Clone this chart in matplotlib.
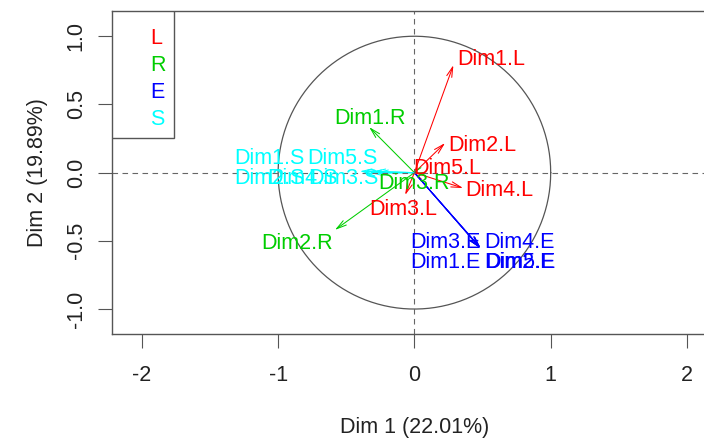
import matplotlib
matplotlib.use("Agg")
import numpy as np
import matplotlib.pyplot as plt
from matplotlib.patches import FancyArrowPatch, Rectangle

plt.rcParams["font.family"] = ["Liberation Sans", "DejaVu Sans"]

# partial axes coordinates, one set per group
groups = ["L", "R", "E", "S"]
group_colors = ["#ff0000", "#00cd00", "#0000ff", "#00ffff"]

L_names = ["Dim1.L", "Dim2.L", "Dim3.L", "Dim4.L", "Dim5.L"]
L_x = [0.286, 0.225, -0.068, 0.357, -0.020]
L_y = [0.788, 0.217, -0.164, -0.113, 0.010]

R_names = ["Dim1.R", "Dim2.R", "Dim3.R"]
R_x = [-0.332, -0.583, -0.030]
R_y = [0.334, -0.420, -0.010]

E_names = ["Dim1.E", "Dim2.E", "Dim3.E", "Dim4.E", "Dim5.E"]
E_x = [0.480, 0.485, 0.480, 0.485, 0.485]
E_y = [-0.550, -0.555, -0.550, -0.550, -0.555]

S_names = ["Dim1.S", "Dim2.S", "Dim3.S", "Dim4.S", "Dim5.S"]
S_x = [-0.400, -0.380, -0.280, -0.330, -0.300]
S_y = [0.010, -0.005, 0.000, 0.000, 0.010]

xlab = "Dim 1 (22.01%)"
ylab = "Dim 2 (19.89%)"

# label placement: (alignment, dx, dy) in pixels from the arrow tip
label_pos = {
    "Dim1.L": ("left", 4, 6), "Dim2.L": ("left", 3, -2),
    "Dim3.L": ("center", -2, -14), "Dim4.L": ("left", 2, -2),
    "Dim5.L": ("left", 1.5, 3),
    "Dim1.R": ("center", 1, 9), "Dim2.R": ("right", -2, -14),
    "Dim3.R": ("center", 4, -9),
    "Dim1.E": ("right", 1, -15), "Dim2.E": ("left", 4, -14),
    "Dim3.E": ("right", 1, 5), "Dim4.E": ("left", 4, 5),
    "Dim5.E": ("left", 5, -14.5),
    "Dim1.S": ("right", -55, 13), "Dim2.S": ("right", -57.5, -4.7),
    "Dim3.S": ("right", 1.9, -5.4), "Dim4.S": ("right", -31.3, -5.4),
    "Dim5.S": ("right", 4.6, 13),
}

FS = 15.5
GREY = "#555555"

fig = plt.figure(figsize=(7.04, 4.38), dpi=100)
ax = fig.add_axes([0.1587, 0.2368, 0.8599, 0.7381])
ax.set_xlim(-2.221, 2.221)
ax.set_ylim(-1.185, 1.185)

# unit circle and the dashed reference lines
t = np.linspace(0, 2 * np.pi, 400)
ax.plot(np.cos(t), np.sin(t), color=GREY, lw=0.9)
ax.axhline(0, color="#666666", lw=0.8, dashes=(5, 4))
ax.axvline(0, color="#666666", lw=0.8, dashes=(5, 4))

data = [(L_names, L_x, L_y), (R_names, R_x, R_y),
        (E_names, E_x, E_y), (S_names, S_x, S_y)]
for (names, xs, ys), col in zip(data, group_colors):
    for name, x, y in zip(names, xs, ys):
        arr = FancyArrowPatch((0, 0), (x, y),
                              arrowstyle="->,head_length=0.72,head_width=0.19",
                              mutation_scale=10, color=col, lw=0.75,
                              shrinkA=0, shrinkB=0)
        ax.add_patch(arr)
        ha, dx, dy = label_pos[name]
        ax.annotate(name, (x, y), xytext=(dx, dy), textcoords="offset pixels",
                    ha=ha, va="center", color=col, fontsize=FS)

# axes frame and ticks
for side in ["top", "left", "bottom", "right"]:
    ax.spines[side].set_color(GREY)
    ax.spines[side].set_linewidth(1.0)
ax.set_xticks([-2, -1, 0, 1, 2])
ax.set_xticklabels(["-2", "-1", "0", "1", "2"])
ax.set_yticks([-1.0, -0.5, 0.0, 0.5, 1.0])
ax.set_yticklabels(["-1.0", "-0.5", "0.0", "0.5", "1.0"])
ax.tick_params(direction="out", length=10, width=0.8, color=GREY,
               labelsize=FS, labelcolor="#222222")
ax.tick_params(axis="x", pad=12)
ax.tick_params(axis="y", pad=8)
for lbl in ax.get_yticklabels():
    lbl.set_rotation(90)
    lbl.set_va("center")

ax.set_xlabel(xlab, fontsize=FS, color="#222222")
ax.set_ylabel(ylab, fontsize=FS, color="#222222")
ax.xaxis.set_label_coords(0.5, -0.287)
ax.xaxis.label.set_va("center")
ax.yaxis.set_label_coords(-0.1234, 0.5)
ax.yaxis.label.set_va("center")

# group key in the top-left corner (box plus coloured letters)
box_w, box_h = 0.1029, 0.392
ax.add_patch(Rectangle((0, 1 - box_h), box_w, box_h, transform=ax.transAxes,
                       facecolor="white", edgecolor=GREY, lw=1.0, zorder=5))
row0, row_step = 0.914, 0.0835
for i, (g, col) in enumerate(zip(groups, group_colors)):
    ax.text(0.0633, row0 - i * row_step, g, transform=ax.transAxes,
            ha="left", va="center", color=col, fontsize=FS, zorder=6)

fig.savefig("out.png", dpi=100)
